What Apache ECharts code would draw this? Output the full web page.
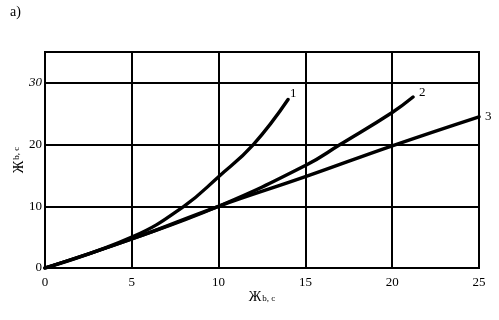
<!DOCTYPE html>
<html><head><meta charset="utf-8">
<script src="https://cdn.jsdelivr.net/npm/echarts@6/dist/echarts.min.js"></script>
<style>html,body{margin:0;padding:0;background:#fff}#c{width:499px;height:320px}</style>
</head><body><div id="c"></div>
<script>
const curve1X = [0, 5, 8, 10, 12, 14];
const curve1Y = [0, 5, 10, 14.8, 20, 27.3];
const curve2X = [0, 5, 10, 15, 17, 20, 21.2];
const curve2Y = [0, 4.7, 10, 16.6, 20, 25.2, 27.7];
const curve3X = [0, 5, 10, 15, 20, 25];
const curve3Y = [0, 4.7, 10, 14.8, 19.8, 24.5];
const curveNames = ['1', '2', '3'];
const xTicks = [0, 5, 10, 15, 20, 25];
const yTicks = [0, 10, 20, 30];

const pair = (xs, ys) => xs.map((x, i) => [x, ys[i]]);
const FONT = '"Liberation Serif", "DejaVu Serif", serif';
const chart = echarts.init(document.getElementById('c'), null, {renderer: 'canvas'});
const mk = (name, data, off) => ({
  type: 'line', name, data, smooth: 0.45, symbol: 'none',
  lineStyle: {color: '#000', width: 3.4, cap: 'round'},
  endLabel: {show: true, formatter: name, color: '#000', fontFamily: FONT, fontSize: 13, offset: off},
  z: 5
});
chart.setOption({
  animation: false,
  backgroundColor: '#fff',
  graphic: [{type: 'text', left: 10, top: 5, style: {text: 'a)', font: '14px ' + FONT, fill: '#000'}}],
  grid: {left: 45, right: 20, top: 52, bottom: 52, containLabel: false, outerBoundsMode: 'none', show: true, borderColor: '#000', borderWidth: 2, backgroundColor: 'transparent'},
  xAxis: {
    type: 'value', min: 0, max: 25, interval: 5,
    axisLine: {lineStyle: {color: '#000', width: 2}}, axisTick: {show: false},
    splitLine: {lineStyle: {color: '#000', width: 2}},
    axisLabel: {color: '#000', fontFamily: FONT, fontSize: 13, margin: 8,
      formatter: v => xTicks.includes(v) ? String(v) : ''},
    name: '{a|Ж}{b|b, c}', nameLocation: 'middle', nameGap: 22, nameMoveOverlap: false,
    nameTextStyle: {rich: {a: {fontFamily: FONT, fontSize: 14, color: '#000'}, b: {fontFamily: FONT, fontSize: 9, color: '#000', padding: [4, 0, 0, 1]}}}
  },
  yAxis: {
    type: 'value', min: 0, max: 35, interval: 10,
    axisLine: {lineStyle: {color: '#000', width: 2}}, axisTick: {show: false},
    splitLine: {lineStyle: {color: '#000', width: 2}},
    axisLabel: {color: '#000', fontFamily: FONT, fontSize: 13, margin: 3,
      formatter: v => yTicks.includes(v) ? (v === 30 ? '{i|30}' : String(v)) : '',
      rich: {i: {fontFamily: FONT, fontStyle: 'italic', fontSize: 13, color: '#000'}}},
    name: '{a|Ж}{b|b, c}', nameLocation: 'middle', nameRotate: 90, nameGap: 19, nameMoveOverlap: false,
    nameTextStyle: {rich: {a: {fontFamily: FONT, fontSize: 14, color: '#000'}, b: {fontFamily: FONT, fontSize: 9, color: '#000', padding: [0, 0, 4, 1]}}}
  },
  series: [
    mk(curveNames[0], pair(curve1X, curve1Y), [-6, -6]),
    mk(curveNames[1], pair(curve2X, curve2Y), [-2, -4]),
    mk(curveNames[2], pair(curve3X, curve3Y), [-2, 0])
  ]
});
</script></body></html>
